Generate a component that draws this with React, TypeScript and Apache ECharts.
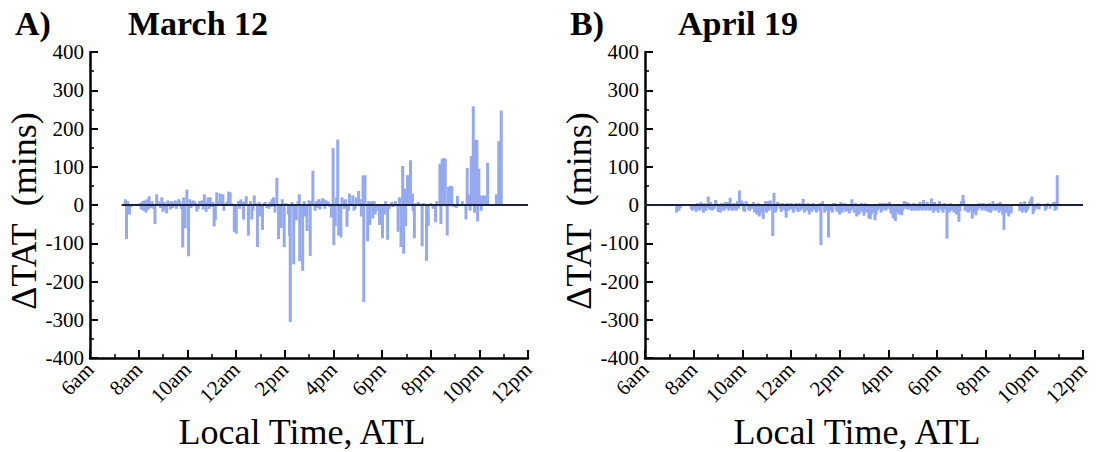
import React, { useEffect, useRef } from "react";
import * as echarts from "echarts";

const xTicks = [6, 8, 10, 12, 14, 16, 18, 20, 22, 24];
const xTickLabels = ["6am", "8am", "10am", "12am", "2pm", "4pm", "6pm", "8pm", "10pm", "12pm"];
const panelLetters = ["A)", "B)"];
const panelTitles = ["March 12", "April 19"];
const zeroLineStart = [7.3, 6];

// [local time in hours, ΔTAT in minutes]
const march12: number[][] = [
  [7.45, 15], [7.5, -89], [7.55, 10], [7.62, -25], [7.7, -5],
  [8.05, 5], [8.1, -10], [8.12, -12], [8.15, 8], [8.18, 10], [8.2, -15], [8.25, 12], [8.28, -8], [8.3, -20],
  [8.35, 15], [8.4, -12], [8.43, 23], [8.47, 8], [8.5, -8], [8.55, 10], [8.6, -10],
  [8.67, -50], [8.74, 28], [8.8, 10], [8.85, 5], [8.9, -8], [8.95, 20], [9.0, -18], [9.05, 8], [9.1, -12],
  [9.15, -22], [9.2, 12], [9.25, 8], [9.3, -12], [9.35, 10], [9.4, -8], [9.45, 8],
  [9.5, 12], [9.55, -10], [9.6, 8], [9.65, 15], [9.7, 10], [9.75, -10],
  [9.81, -111], [9.85, 20], [9.91, -61], [9.98, 40], [10.05, -134], [10.1, 15], [10.15, -8], [10.2, 10], [10.25, 12],
  [10.28, 5], [10.32, 8], [10.39, -17], [10.45, -10], [10.5, 10], [10.55, 8], [10.6, 12], [10.65, -12], [10.7, 28],
  [10.77, -18], [10.82, 8], [10.85, 20], [10.9, -10], [10.94, 20],
  [11.0, -5], [11.05, 8], [11.1, -56], [11.15, -40], [11.21, 33], [11.28, 10], [11.35, 30], [11.4, 12], [11.46, 28],
  [11.5, -15], [11.55, 5], [11.65, 10],
  [11.7, 35], [11.76, 33], [11.82, 5], [11.93, -70], [12.01, -75], [12.1, 10], [12.15, -10], [12.2, 15], [12.25, 8],
  [12.31, -38], [12.36, 10],
  [12.42, 23], [12.51, -80], [12.6, 10], [12.65, -38], [12.7, -15], [12.75, 25], [12.8, 5], [12.88, -110], [12.95, 8],
  [13.0, -30], [13.09, -65], [13.15, 5], [13.2, 8], [13.27, -8], [13.35, -10], [13.4, 8], [13.45, -5], [13.48, 15],
  [13.54, 20], [13.6, -20],
  [13.68, 71], [13.75, -89], [13.8, -40], [13.86, -60], [13.9, 15], [13.98, -110], [14.05, 5], [14.15, -25],
  [14.2, -80], [14.23, -306], [14.3, 8], [14.37, -155], [14.42, -20], [14.48, -40], [14.55, 10], [14.6, 28],
  [14.62, -147], [14.7, -20], [14.74, -172], [14.8, 10], [14.85, -30], [14.92, -68], [15.0, 12], [15.05, -133],
  [15.1, 10], [15.16, 90], [15.25, -15], [15.3, 10], [15.35, -8], [15.4, 15], [15.45, -12], [15.5, 10], [15.55, 18],
  [15.6, 15], [15.65, -10], [15.7, 12], [15.75, 10], [15.8, 8], [15.85, -5], [15.92, -33], [15.99, 149], [16.02, -105],
  [16.08, -55], [16.13, 20], [16.18, 171],
  [16.22, -80], [16.31, -85], [16.36, 20], [16.4, 12], [16.45, -10], [16.5, 15], [16.56, -57], [16.62, -15],
  [16.66, 30], [16.72, 10], [16.8, 25],
  [16.85, -15], [16.9, -10], [16.93, 20], [17.0, 10], [17.04, 37], [17.1, 15], [17.15, -30], [17.22, 77],
  [17.25, -254], [17.3, 78], [17.41, -95],
  [17.45, 10], [17.5, -52], [17.55, 8], [17.6, 10], [17.62, -35], [17.68, 10], [17.72, -25], [17.8, -15],
  [17.9, -52], [18.02, -87], [18.1, -25],
  [18.15, 10], [18.23, -91], [18.3, -10], [18.4, 8], [18.45, -5], [18.55, 10], [18.66, -70], [18.72, 20],
  [18.78, -110], [18.85, 102],
  [18.89, -127], [18.95, 43], [18.97, -55], [19.05, 78], [19.17, 117], [19.25, 30], [19.28, -16], [19.33, -87],
  [19.4, 5], [19.5, 8], [19.65, -108], [19.7, 5], [19.83, -146], [19.9, -55], [20.0, 5], [20.1, -10],
  [20.2, -45], [20.25, 10],
  [20.38, 108], [20.42, -50], [20.47, 120], [20.54, 123], [20.6, 121], [20.68, -80], [20.73, 47], [20.8, 50],
  [20.87, 49], [20.95, -5], [21.05, -8], [21.1, 24], [21.3, 10], [21.45, -38], [21.5, 97], [21.58, 28],
  [21.62, -15], [21.67, 128],
  [21.75, 258], [21.8, -20], [21.82, 171], [21.9, 170], [21.93, -43], [21.98, 95], [22.05, 25], [22.08, -15],
  [22.15, 25], [22.25, 25], [22.34, 110], [22.7, 28], [22.8, 167], [22.9, 247],
];

const april19: number[][] = [
  [7.3, -20], [7.35, -12], [7.4, -15], [7.45, -8], [7.9, -10], [7.95, -15], [8.0, -8], [8.05, -10], [8.1, -18],
  [8.15, 5], [8.2, -12], [8.25, -15], [8.3, 8], [8.35, -10],
  [8.4, -20], [8.45, 5], [8.5, -15], [8.55, -8], [8.6, 22], [8.65, -12], [8.7, 8], [8.75, -15], [8.8, -12],
  [8.85, -10], [8.9, 13], [8.95, 5], [9.0, -18], [9.05, -10], [9.1, -20], [9.15, 5],
  [9.2, -12], [9.25, -15], [9.3, 8], [9.35, -10], [9.4, 8], [9.45, -15], [9.5, 19], [9.55, -10], [9.6, -15],
  [9.65, 5], [9.7, -12], [9.75, -15], [9.8, 10], [9.85, -10], [9.88, 38], [9.95, 12], [10.0, 8],
  [10.05, -15], [10.1, -18], [10.15, 10], [10.2, 5], [10.25, -12], [10.3, -15], [10.35, -5], [10.4, -10],
  [10.45, 8], [10.5, -20], [10.55, -15], [10.6, -25], [10.65, 5], [10.7, -30], [10.75, -18], [10.78, -22],
  [10.86, -37], [10.9, -15], [10.95, 10], [11.0, -20], [11.05, 10], [11.1, -15], [11.15, 12], [11.2, -10],
  [11.25, -81], [11.3, 32], [11.35, -20], [11.4, -15], [11.45, 8],
  [11.5, 5], [11.55, -10], [11.6, -18], [11.65, 5], [11.7, -12], [11.75, -15], [11.8, -33], [11.85, 5],
  [11.9, -15], [11.95, -10], [12.0, 5], [12.05, -12], [12.1, -20], [12.15, -10], [12.2, 5], [12.25, -15],
  [12.3, -18], [12.35, 5],
  [12.4, -15], [12.45, -10], [12.5, 16], [12.55, -20], [12.6, -12], [12.65, -15], [12.7, 5], [12.75, -25],
  [12.8, -15], [12.85, -18], [12.9, 5], [12.95, -12], [13.0, -15], [13.05, -20], [13.1, -12],
  [13.15, -15], [13.2, 5], [13.23, -105], [13.3, 10], [13.38, -20], [13.45, -15], [13.54, -85], [13.6, -15],
  [13.65, -10], [13.7, -20], [13.75, 5], [13.8, 5], [13.85, -12],
  [13.9, -18], [13.95, -15], [14.0, -25], [14.05, 8], [14.1, -20], [14.15, -12], [14.2, 5], [14.25, -18],
  [14.3, -15], [14.35, -10], [14.4, -22], [14.45, -15], [14.5, 15], [14.55, -12], [14.6, -20], [14.65, 5],
  [14.7, -30], [14.75, -20], [14.8, -25], [14.85, -15], [14.9, 5], [14.95, -20], [15.0, -28], [15.05, 5],
  [15.1, -20], [15.15, -15], [15.2, -35], [15.26, -37], [15.3, -25], [15.35, -20], [15.4, -15],
  [15.45, -40], [15.5, -25], [15.55, -15], [15.6, -10], [15.65, 5], [15.7, -20], [15.75, -15], [15.8, 5],
  [15.85, -12], [15.9, -15], [15.95, 5], [16.0, -10], [16.05, 8], [16.1, -20], [16.15, -25], [16.2, -35],
  [16.25, -30], [16.29, -42], [16.35, -20], [16.4, -15], [16.45, -25], [16.5, -20], [16.55, -27], [16.6, -15],
  [16.65, 10], [16.7, -10], [16.75, 8], [16.8, -12], [16.85, 5], [16.9, -10], [16.95, -15], [17.0, -12],
  [17.05, 5], [17.1, -15], [17.15, -12], [17.2, -10], [17.25, -15], [17.3, 8], [17.35, -12], [17.4, -15],
  [17.45, 13], [17.5, -10], [17.55, -15], [17.6, 8], [17.65, -10], [17.7, -15], [17.77, 17], [17.8, -12],
  [17.85, -20], [17.9, 8],
  [17.95, -15], [18.0, -12], [18.05, -20], [18.1, 10], [18.15, -10], [18.2, -15], [18.25, -20], [18.3, 5],
  [18.35, -12], [18.41, -88], [18.45, -15], [18.5, -20], [18.55, 5], [18.6, -15], [18.65, -12], [18.7, -20],
  [18.75, -15], [18.8, -25], [18.85, -20], [18.9, -44], [18.95, -15], [19.0, 10], [19.07, 26], [19.1, 12],
  [19.15, -15], [19.2, -12], [19.25, -18], [19.3, -20], [19.35, -12], [19.4, -15], [19.45, -36], [19.5, -20],
  [19.55, -15], [19.6, -27], [19.65, -15], [19.7, -10], [19.75, 5], [19.8, -8], [19.85, -15], [19.9, 5],
  [19.95, -10], [20.0, -15], [20.05, -12], [20.1, -18], [20.15, 5], [20.2, -20], [20.25, -15],
  [20.3, 10], [20.35, -10], [20.4, -15], [20.45, -12], [20.5, 5], [20.55, -20], [20.6, 8], [20.65, -15],
  [20.7, -25], [20.75, -65], [20.8, -15], [20.85, -20], [20.9, -20], [20.95, -30], [21.0, -15], [21.05, -22],
  [21.4, -15], [21.45, 8], [21.5, -20], [21.55, -15], [21.6, 10], [21.65, -20], [21.7, -15], [21.75, -10],
  [21.8, 8], [21.85, 15], [21.9, 22], [21.95, -24], [22.0, -15], [22.05, -8], [22.1, -10], [22.15, 5],
  [22.2, -12], [22.45, -15], [22.5, -10], [22.55, 5], [22.65, -10], [22.8, 8], [22.85, -15], [22.9, -12],
  [22.92, 10], [22.94, 78],
];

const panelData = [march12, april19];

const FONT = "Liberation Serif";
const BAR_COLOR = "#94a9ef";
const ZERO_COLOR = "#1b2140";

export default function App() {
  const ref = useRef<HTMLDivElement>(null);

  useEffect(() => {
    if (!ref.current) return;
    const chart = echarts.init(ref.current, null, { renderer: "svg" });
    const gridLefts = [90, 645];
    const gridW = 438;

    const labelFor = (v: number) => {
      const i = xTicks.indexOf(Math.round(v));
      return i >= 0 ? xTickLabels[i] : "";
    };

    const axisLine = { show: true, onZero: false, lineStyle: { color: "#000", width: 2.5 } };
    const tickText = { fontFamily: FONT, fontSize: 21, color: "#000" };

    const option: any = {
      animation: false,
      textStyle: { fontFamily: FONT },
      title: [0, 1].flatMap((i) => [
        {
          text: panelLetters[i],
          left: i === 0 ? 10 : 565,
          top: 1,
          textStyle: { fontFamily: FONT, fontWeight: "bold", fontSize: 34, color: "#000" },
        },
        {
          text: panelTitles[i],
          left: i === 0 ? 123 : 673,
          top: 1,
          textStyle: { fontFamily: FONT, fontWeight: "bold", fontSize: 34, color: "#000" },
        },
      ]),
      grid: [0, 1].map((i) => ({
        left: gridLefts[i],
        width: gridW,
        top: 52,
        height: 306,
        containLabel: false,
        outerBoundsMode: "none",
      })),
      xAxis: [0, 1].map((i) => ({
        type: "value",
        gridIndex: i,
        min: 6,
        max: 24,
        interval: 2,
        name: "Local Time, ATL",
        nameLocation: "middle",
        nameGap: 49,
        nameTextStyle: {
          fontFamily: FONT,
          fontSize: 36,
          lineHeight: 36,
          color: "#000",
          padding: [0, 14, 0, 0],
        },
        axisLine,
        axisTick: { show: true, inside: true, length: 8, lineStyle: { color: "#000", width: 2 } },
        minorTick: { show: true, splitNumber: 2, length: 4, lineStyle: { color: "#000", width: 1.5 } },
        splitLine: { show: false },
        axisLabel: {
          ...tickText,
          rotate: 45,
          margin: 8,
          formatter: labelFor,
          showMinLabel: true,
          showMaxLabel: true,
        },
      })),
      yAxis: [0, 1].map((i) => ({
        type: "value",
        gridIndex: i,
        min: -400,
        max: 400,
        interval: 100,
        name: "ΔTAT  (mins)",
        nameLocation: "middle",
        nameGap: 42,
        nameTextStyle: { fontFamily: FONT, fontSize: 36, color: "#000", padding: [0, 12, 0, 0] },
        axisLine,
        axisTick: { show: true, inside: true, length: 8, lineStyle: { color: "#000", width: 2 } },
        minorTick: { show: true, splitNumber: 2, length: 4, lineStyle: { color: "#000", width: 1.5 } },
        splitLine: { show: false },
        axisLabel: { ...tickText, margin: 6 },
      })),
      series: [0, 1].flatMap((i) => [
        {
          type: "bar",
          xAxisIndex: i,
          yAxisIndex: i,
          data: panelData[i],
          barWidth: 3,
          itemStyle: { color: BAR_COLOR },
          silent: true,
        },
        {
          type: "line",
          xAxisIndex: i,
          yAxisIndex: i,
          data: [[zeroLineStart[i], 0], [24, 0]],
          symbol: "none",
          lineStyle: { color: ZERO_COLOR, width: 2 },
          z: 5,
          silent: true,
        },
      ]),
    };
    chart.setOption(option);
    return () => chart.dispose();
  }, []);

  return (
    <div
      ref={ref}
      style={{ position: "absolute", left: 0, top: 0, width: 1114, height: 452, background: "#fff" }}
    />
  );
}
